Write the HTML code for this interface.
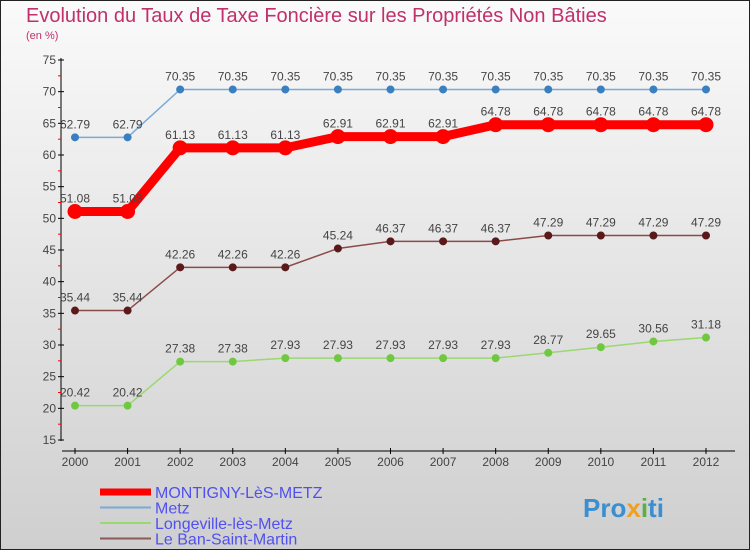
<!DOCTYPE html>
<html><head><meta charset="utf-8"><style>
body{margin:0;width:750px;height:550px;overflow:hidden}
svg{display:block;font-family:"Liberation Sans",sans-serif}
</style></head><body>
<svg id="c" width="750" height="550">
<defs><linearGradient id="bg" x1="0" y1="0" x2="0" y2="1"><stop offset="0" stop-color="#fafafa"/><stop offset="1" stop-color="#cfcfcf"/></linearGradient></defs>
<rect x="0.5" y="0.5" width="749" height="549" fill="url(#bg)" stroke="#222"/>
<text x="26" y="22" font-size="20" fill="#c0306a">Evolution du Taux de Taxe Foncière sur les Propriétés Non Bâties</text>
<text x="26" y="39" font-size="11" fill="#c0306a">(en %)</text>
<g id="axes"></g><g id="series"></g><g id="legend"></g>
<text x="583" y="517" font-size="26" font-weight="bold" fill="#3a8fd0">Pro<tspan fill="#f0a020">x</tspan><tspan fill="#5ab040">i</tspan>ti</text>
</svg>
<script>
const years=[2000,2001,2002,2003,2004,2005,2006,2007,2008,2009,2010,2011,2012];
const yTicks=[15,20,25,30,35,40,45,50,55,60,65,70,75];
const montigny=[51.08,51.08,61.13,61.13,61.13,62.91,62.91,62.91,64.78,64.78,64.78,64.78,64.78];
const metz=[62.79,62.79,70.35,70.35,70.35,70.35,70.35,70.35,70.35,70.35,70.35,70.35,70.35];
const longeville=[20.42,20.42,27.38,27.38,27.93,27.93,27.93,27.93,27.93,28.77,29.65,30.56,31.18];
const ban=[35.44,35.44,42.26,42.26,42.26,45.24,46.37,46.37,46.37,47.29,47.29,47.29,47.29];
const NS="http://www.w3.org/2000/svg";
const X=i=>75+i*(706-75)/12;
const Y=v=>440-(v-15)*(380/60);
function mk(t,a,p){const e=document.createElementNS(NS,t);for(const k in a)e.setAttribute(k,a[k]);p.appendChild(e);return e;}
const ax=document.getElementById('axes');
const yl=mk('line',{x1:61,y1:58,x2:61,y2:441,stroke:'#000'},ax);


yTicks.forEach(v=>{
 mk('line',{x1:58,x2:64,y1:Y(v),y2:Y(v),stroke:'#000'},ax);
 if(v<75){mk('line',{x1:58,x2:61,y1:Y(v+2.5),y2:Y(v+2.5),stroke:'#f00'},ax);}
 const t=mk('text',{x:56,y:Y(v)+4,'font-size':12,'text-anchor':'end',fill:'#444'},ax);t.textContent=v;
 
 
});
const xl=mk('line',{x1:62,y1:451,x2:735,y2:451,stroke:'#000'},ax);


years.forEach((y,i)=>{
 mk('line',{x1:X(i),x2:X(i),y1:448,y2:454,stroke:'#000'},ax);
 const t=mk('text',{x:X(i),y:466,'font-size':12,'text-anchor':'middle',fill:'#444'},ax);t.textContent=y;
 
 
});
const sg=document.getElementById('series');
function series(d,col,w,r,dot,name){
 const g=mk('g',{},sg);
 
 
 const l=mk('polyline',{points:d.map((v,i)=>X(i)+','+Y(v)).join(' '),fill:'none',stroke:col,'stroke-width':w},g);
 
 
 d.forEach((v,i)=>{
  const c=mk('circle',{cx:X(i),cy:Y(v),r:r,fill:dot,stroke:dot},g);
  
  
  const t=mk('text',{x:X(i),y:Y(v)-9,'font-size':12,'text-anchor':'middle',fill:'#444'},g);t.textContent=v.toFixed(2);
  
  
 });
}
series(metz,'#7aaad8',1.5,3.5,'#3a80c0','metz');
series(ban,'#8a4a4a',1.5,3.5,'#5a1a1a','le-ban-saint-martin');
series(longeville,'#9ad870',1.5,3.5,'#70c840','longeville-les-metz');
series(montigny,'#f00',9,7,'#f00','montigny-les-metz');
const lg=document.getElementById('legend');
[['MONTIGNY-LèS-METZ','#f00',7],['Metz','#7aaad8',2],['Longeville-lès-Metz','#9ad870',2],['Le Ban-Saint-Martin','#8a5a5a',2]].forEach((e,i)=>{
 const y=492+i*15.5;
 const g=mk('g',{},lg);
 
 
 mk('line',{x1:100,x2:151,y1:y,y2:y,stroke:e[1],'stroke-width':e[2]},g);
 const t=mk('text',{x:155,y:y+6,'font-size':16,fill:'#5050f0'},g);t.textContent=e[0];
});
</script>
</body></html>
